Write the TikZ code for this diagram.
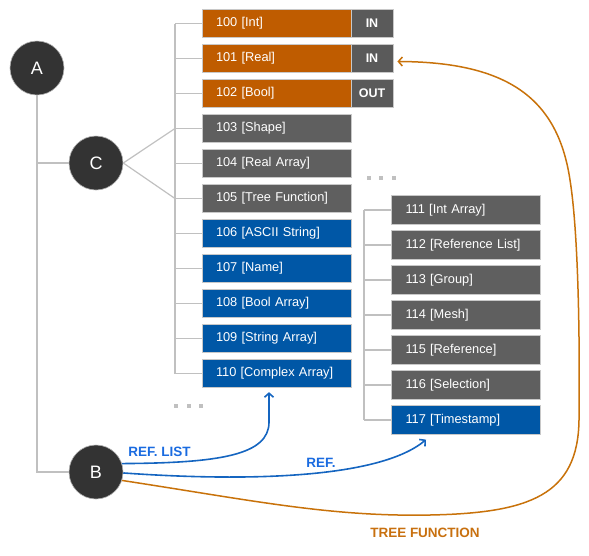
\documentclass[tikz,border=0pt]{standalone}
\usepackage{fontspec}
\setmainfont{Liberation Sans}
\usetikzlibrary{arrows.meta,calc}
\definecolor{orgbox}{HTML}{BF5C00}
\definecolor{greybox}{HTML}{5F5F5F}
\definecolor{bluebox}{HTML}{0057A6}
\definecolor{taggrey}{HTML}{5A5A5A}
\definecolor{circfill}{HTML}{333333}
\definecolor{treeline}{HTML}{C0C0C0}
\definecolor{boxline}{HTML}{C8C8C8}
\definecolor{bluearrow}{HTML}{1565C0}
\definecolor{bluelabel}{HTML}{1A6BE0}
\definecolor{orgarrow}{HTML}{C8720A}
\definecolor{orglabel}{HTML}{C8700F}
\begin{document}
\begin{tikzpicture}[x=1pt,y=-1pt,
  box/.style={rectangle, draw=boxline, line width=0.8pt, minimum height=28.5pt,
    text width=121pt, inner xsep=14pt, inner ysep=0pt, align=left, text=white,
    font=\fontsize{12.8}{14}\selectfont},
  obox/.style={box, fill=orgbox},
  gbox/.style={box, fill=greybox},
  bbox/.style={box, fill=bluebox},
  tagbox/.style={rectangle, draw=boxline, line width=0.8pt, fill=taggrey,
    minimum width=42pt, minimum height=28.5pt, inner sep=0pt, text=white,
    font=\bfseries\fontsize{12.5}{14}\selectfont},
  circ/.style={circle, fill=circfill, draw=gray!60, line width=0.6pt,
    minimum size=54pt, inner sep=0pt, text=white, font=\fontsize{18}{20}\selectfont},
  tree/.style={draw=treeline, line width=1.2pt},
  refarrow/.style={draw=bluearrow, line width=1.6pt, -{Straight Barb[length=4pt,width=9pt]}},
  tfarrow/.style={draw=orgarrow, line width=1.5pt, -{Straight Barb[length=4pt,width=9pt]}},
  lbl/.style={font=\bfseries\fontsize{13.5}{15}\selectfont, inner sep=0pt},
  dot/.style={fill=treeline, draw=none}
]
\useasboundingbox (0,0) rectangle (589,555);

% circles
\node[circ] (A) at (37,68) {A};
\node[circ] (C) at (96,163) {C};
\node[circ] (B) at (96,472) {B};

% left column
\node[obox] (b100) at (276.5,23.5) {100 [Int]};
\node[obox] (b101) at (276.5,58.5) {101 [Real]};
\node[obox] (b102) at (276.5,93.5) {102 [Bool]};
\node[gbox] (b103) at (276.5,128.5) {103 [Shape]};
\node[gbox] (b104) at (276.5,163.5) {104 [Real Array]};
\node[gbox] (b105) at (276.5,198.5) {105 [Tree Function]};
\node[bbox] (b106) at (276.5,233.5) {106 [ASCII String]};
\node[bbox] (b107) at (276.5,268.5) {107 [Name]};
\node[bbox] (b108) at (276.5,303.5) {108 [Bool Array]};
\node[bbox] (b109) at (276.5,338.5) {109 [String Array]};
\node[bbox] (b110) at (276.5,373.5) {110 [Complex Array]};

\node[tagbox] (in100) at (372,23.5) {IN};
\node[tagbox] (in101) at (372,58.5) {IN};
\node[tagbox] (out102) at (372,93.5) {OUT};

% right column
\node[gbox] (b111) at (466,210) {111 [Int Array]};
\node[gbox] (b112) at (466,245) {112 [Reference List]};
\node[gbox] (b113) at (466,280) {113 [Group]};
\node[gbox] (b114) at (466,315) {114 [Mesh]};
\node[gbox] (b115) at (466,350) {115 [Reference]};
\node[gbox] (b116) at (466,385) {116 [Selection]};
\node[bbox] (b117) at (466,420) {117 [Timestamp]};

% tree lines
\coordinate (ltop) at (175,0);
\coordinate (rtop) at (364,0);
\draw[tree] (b100.west -| ltop) -- (b110.west -| ltop);
\foreach \i in {100,...,110} { \draw[tree] (b\i.west -| ltop) -- (b\i.west); }
\draw[tree] (b111.west -| rtop) -- (b117.west -| rtop);
\foreach \i in {111,...,117} { \draw[tree] (b\i.west -| rtop) -- (b\i.west); }
\draw[tree] (C.east) -- (b103.west -| ltop);
\draw[tree] (C.east) -- (b105.west -| ltop);
\draw[tree] (A.south) -- (A.south |- B.west) -- (B.west);
\draw[tree] (A.south |- C.west) -- (C.west);

% ellipsis dots
\foreach \x in {368.7,381.3,394.3} { \fill[dot] (\x-2,176) rectangle (\x+2,180); }
\foreach \x in {176,188.5,201} { \fill[dot] (\x-2,403.5) rectangle (\x+2,407.5); }

% arrows
\coordinate (e110) at ($(b110.south)+(-7.5,4)$);
\coordinate (e117) at ($(b117.south)+(-40,5)$);
\coordinate (e101) at ($(in101.east)+(4,3)$);
\draw[refarrow] (B.18) .. controls (220,463) and (269,455) .. ($(e110)+(0,30)$) -- (e110);
\draw[refarrow] (B.-2) .. controls (250,482) and (380,478) .. (e117);
\draw[tfarrow] (B.-18) .. controls (250,500) and (330,517) .. (430,515)
  .. controls (530,513) and (578,495) .. (579,420)
  .. controls (580,330) and (578,230) .. (570,180)
  .. controls (558,100) and (510,62) .. (e101);

% labels
\node[lbl, text=bluelabel] (lreflist) at (159.5,452) {REF. LIST};
\node[lbl, text=bluelabel] (lref) at (321,463) {REF.};
\node[lbl, text=orglabel] (ltree) at (425,533) {TREE FUNCTION};
\end{tikzpicture}
\end{document}
